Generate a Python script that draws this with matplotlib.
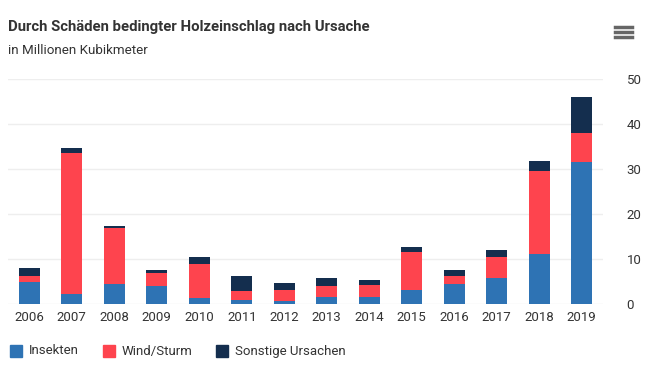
import matplotlib

matplotlib.use("Agg")
import matplotlib.pyplot as plt
from matplotlib.lines import Line2D
from matplotlib.patches import Rectangle
import numpy as np

years = ["2006", "2007", "2008", "2009", "2010", "2011", "2012",
         "2013", "2014", "2015", "2016", "2017", "2018", "2019"]
insekten = [4.9, 2.2, 4.4, 3.9, 1.3, 0.9, 0.7, 1.6, 1.6, 3.1, 4.4, 5.8, 11.1, 31.6]
wind = [1.3, 31.3, 12.5, 3.1, 7.7, 2.0, 2.4, 2.3, 2.6, 8.5, 1.8, 4.6, 18.5, 6.4]
sonstige = [1.8, 1.2, 0.4, 0.6, 1.4, 3.3, 1.6, 1.9, 1.1, 1.1, 1.4, 1.6, 2.2, 8.0]

COLORS = {"Insekten": "#2e73b4", "Wind/Sturm": "#fe444e", "Sonstige Ursachen": "#142e4e"}
FONT = "Roboto"

plt.rcParams["font.family"] = FONT

fig = plt.figure(figsize=(6.45, 3.74), dpi=100)
ax = fig.add_axes([8 / 645, 70 / 374, 595 / 645, 225 / 374])

x = np.arange(len(years))
ins = np.array(insekten)
wnd = np.array(wind)
son = np.array(sonstige)
w = 0.5
ax.bar(x, ins, w, color=COLORS["Insekten"], zorder=3)
ax.bar(x, wnd, w, bottom=ins, color=COLORS["Wind/Sturm"], zorder=3)
ax.bar(x, son, w, bottom=ins + wnd, color=COLORS["Sonstige Ursachen"], zorder=3)

ax.set_xlim(-0.5, len(years) - 0.5)
ax.set_ylim(0, 50)
ax.set_yticks([0, 10, 20, 30, 40, 50])
ax.set_xticks(x)
ax.set_xticklabels(years)
ax.yaxis.tick_right()
ax.tick_params(axis="both", length=0, labelsize=9.5, colors="#333333")
ax.tick_params(axis="y", pad=17)
ax.tick_params(axis="x", pad=5)
ax.grid(axis="y", color="#eeeeee", linewidth=1, zorder=0)
for s in ax.spines.values():
    s.set_visible(False)

fig.text(8 / 645, 1 - 27 / 374, "Durch Schäden bedingter Holzeinschlag nach Ursache",
         fontsize=10.7, fontweight="bold", color="#333333", va="center")
fig.text(8 / 645, 1 - 50 / 374, "in Millionen Kubikmeter",
         fontsize=9.6, color="#333333", va="center")

# menu icon
for yy in (27, 32, 37):
    fig.add_artist(Line2D([615 / 645, 632 / 645], [1 - yy / 374] * 2,
                          color="#666666", linewidth=2.5))

# legend
legend_items = [("Insekten", 10), ("Wind/Sturm", 103), ("Sonstige Ursachen", 216)]
for name, px in legend_items:
    fig.add_artist(Rectangle((px / 645, 1 - 357 / 374), 12 / 645, 12 / 374,
                             color=COLORS[name], transform=fig.transFigure))
    fig.text((px + 19) / 645, 1 - 351 / 374, name, fontsize=9.5,
             color="#333333", va="center")

fig.savefig("out.png", dpi=100)
